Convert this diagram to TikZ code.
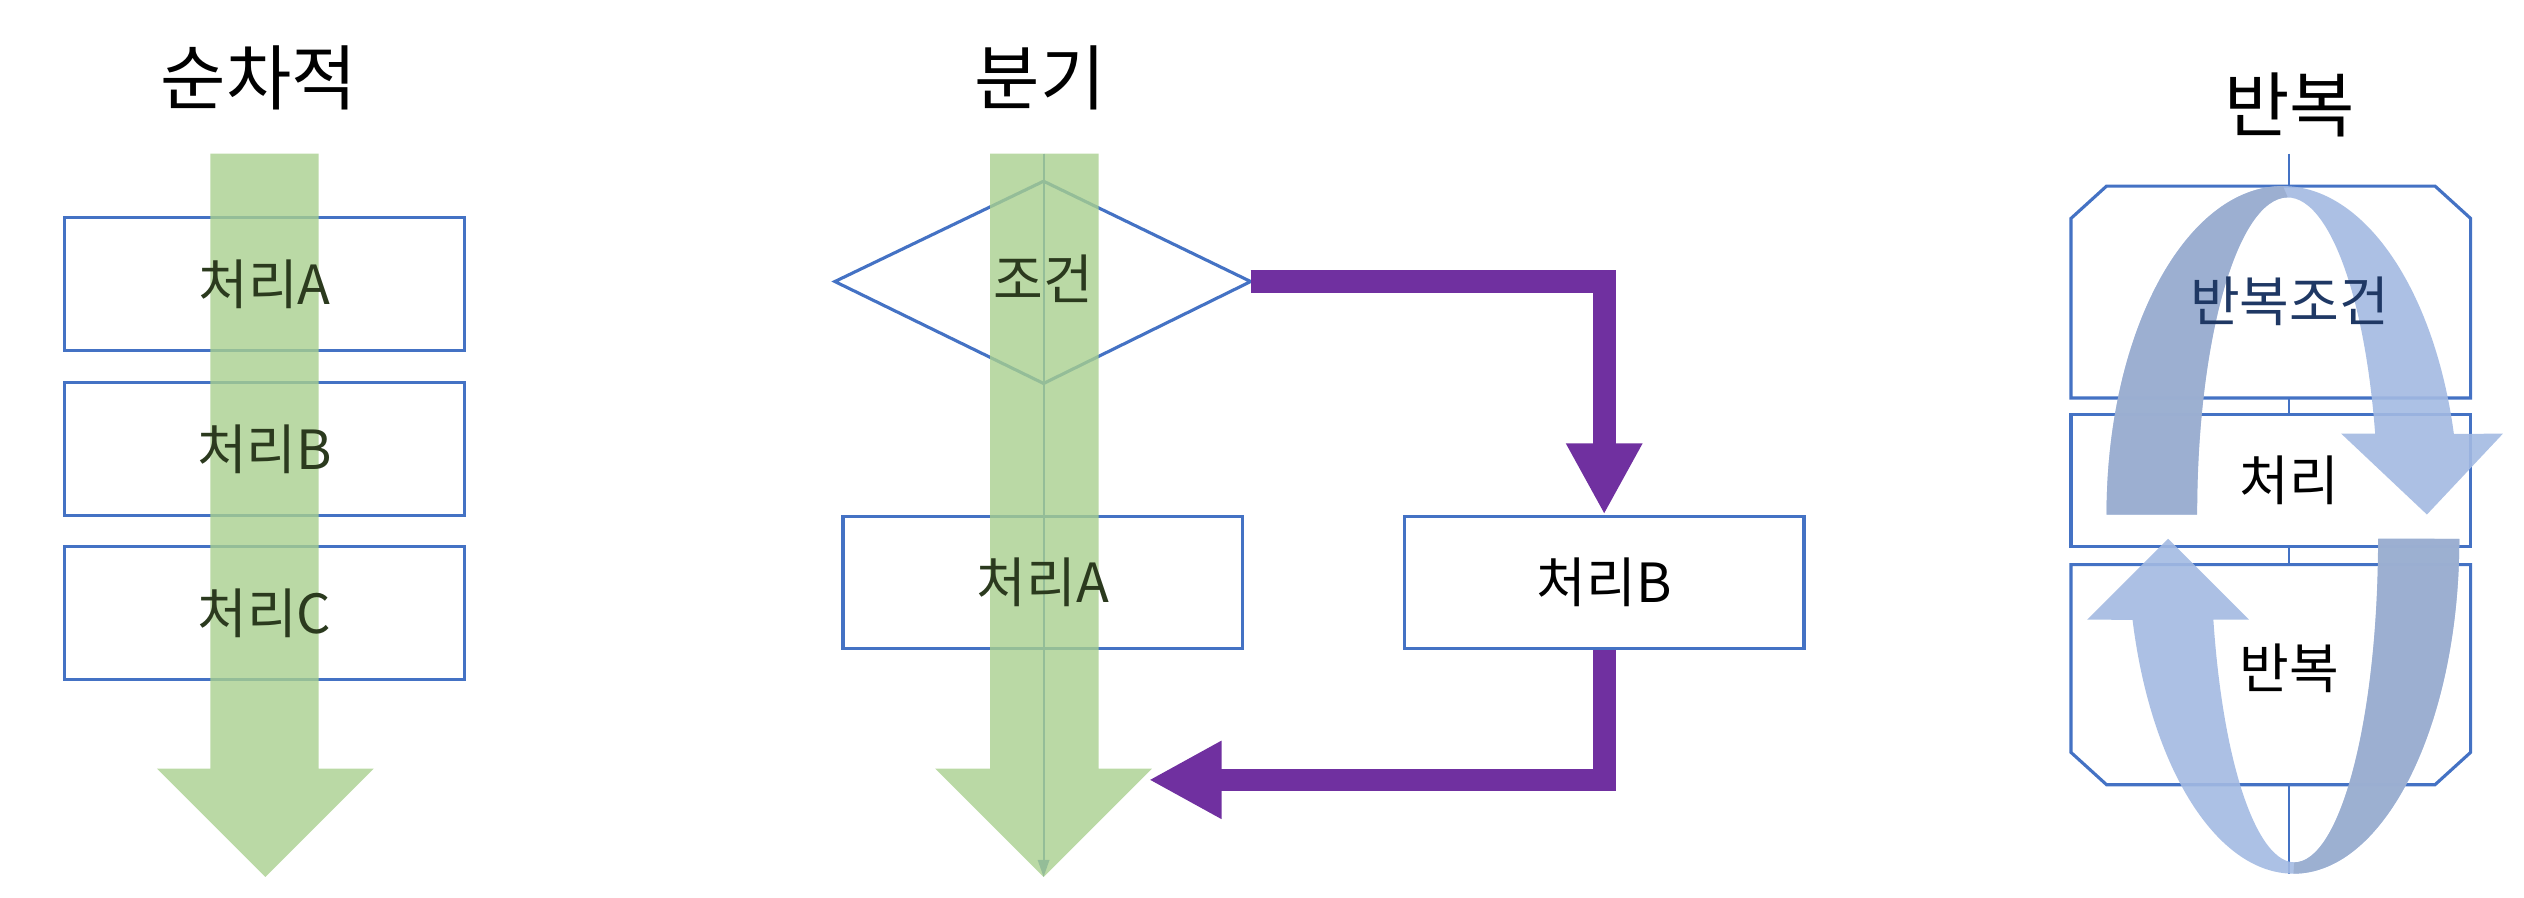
\documentclass[tikz,border=0pt]{standalone}
\usepackage{fontspec}
\setmainfont{Noto Sans CJK KR}
\usetikzlibrary{arrows.meta,calc}
\definecolor{bx}{HTML}{4472C4}
\definecolor{gr}{HTML}{A9D08E}
\definecolor{pu}{HTML}{7030A0}
\definecolor{dk}{HTML}{9BAED0}
\definecolor{lt}{HTML}{A3BAE2}
\definecolor{olive}{HTML}{2B3A1E}
\definecolor{navy}{HTML}{1F3864}
\begin{document}
\begin{tikzpicture}[x=0.02cm,y=-0.02cm,
  box/.style={draw=bx,line width=1.1pt,minimum width=4.94cm,minimum height=1.64cm,inner sep=0},
  lbl/.style={font=\fontsize{19}{22}\selectfont,inner sep=0},
  ttl/.style={font=\fontsize{25}{30}\selectfont,inner sep=0},
  garrow/.style={fill=gr,opacity=0.8},
  conn/.style={draw=pu,line width=0.28cm}]
\useasboundingbox (0,0) rectangle (1560,555);
% titles
\node[ttl] (t1) at (160,48) {순차적};
\node[ttl] (t2) at (643,48) {분기};
\node[ttl] (t3) at (1415,65) {반복};
% left
\node[box] (a1) at (163.5,175.5) {};
\node[box] (a2) at (163.5,277.5) {};
\node[box] (a3) at (163.5,379) {};
\fill[garrow] (130,95)--(197,95)--(197,475)--(231,475)--(164,542)--(97,475)--(130,475)--cycle;
\node[lbl,text=olive] (a1t) at (a1) {처리A};
\node[lbl,text=olive] (a2t) at (a2) {처리B};
\node[lbl,text=olive] (a3t) at (a3) {처리C};
% middle
\node[box] (pA) at (644.5,360) {};
\node[box] (pB) at (991.5,360) {};
\draw[bx,line width=1.1pt] (516,174)--(645,112)--(773,174)--(645,237)--cycle;
\coordinate (condE) at (773,174);
\coordinate (back) at (710,482);
\coordinate (ltop) at (645,95);
\coordinate (lbot) at (645,542);
\draw[conn,-{Triangle[width=0.88cm,length=0.88cm]}] (condE) -| (pB.north);
\draw[conn,-{Triangle[width=0.9cm,length=0.9cm]}] (pB.south) |- (back);
\draw[bx,line width=0.7pt,-{Triangle[width=4pt,length=6pt]}] (ltop) -- (lbot);
\fill[garrow] (612,95)--(679,95)--(679,475)--(712,475)--(645,542)--(578,475)--(612,475)--cycle;
\node[lbl,text=olive] (cond) at (645,172) {조건};
\node[lbl,text=olive] (pAt) at (pA) {처리A};
\node[lbl] (pBt) at (pB) {처리B};
% right
\coordinate (vt) at (1415,95);
\coordinate (vb) at (1415,540);
\draw[bx,line width=0.7pt] (vt) -- (vb);
\filldraw[fill=white,draw=bx,line width=1.1pt] (1280,246)--(1280,135)--(1302,115)--(1505,115)--(1527,135)--(1527,246)--cycle;
\node[box,fill=white,minimum height=1.64cm] (rp) at (1403.5,297) {};
\filldraw[fill=white,draw=bx,line width=1.1pt] (1280,349)--(1280,465)--(1302,485)--(1505,485)--(1527,465)--(1527,349)--cycle;
% arrow 1 (top)
\fill[lt,opacity=0.9] (1302,318) arc[start angle=180,end angle=345.8,x radius=109,y radius=203]
  -- (1547,268) -- (1500,318) -- (1447,268) -- (1468,268)
  arc[start angle=345.2,end angle=180,x radius=56,y radius=196] -- cycle;
\fill[dk,opacity=0.9] (1302,318) arc[start angle=180,end angle=270,x radius=109,y radius=203]
  -- (1414,122) arc[start angle=270,end angle=180,x radius=56,y radius=196] -- cycle;
% arrow 2 (bottom)
\fill[lt,opacity=0.9] (1520,333) arc[start angle=0,end angle=166,x radius=102.5,y radius=207]
  -- (1290,383) -- (1340,333) -- (1390,383) -- (1368,383)
  arc[start angle=165.5,end angle=0,x radius=51.8,y radius=200] -- cycle;
\fill[dk,opacity=0.9] (1520,333) arc[start angle=0,end angle=90,x radius=102.5,y radius=207]
  -- (1418,533) arc[start angle=90,end angle=0,x radius=51.8,y radius=200] -- cycle;
\node[lbl,text=navy] (rc) at (1415,186) {반복조건};
\node[lbl] (rpt) at (1415,297) {처리};
\node[lbl] (rr) at (1415,413) {반복};
\end{tikzpicture}
\end{document}
